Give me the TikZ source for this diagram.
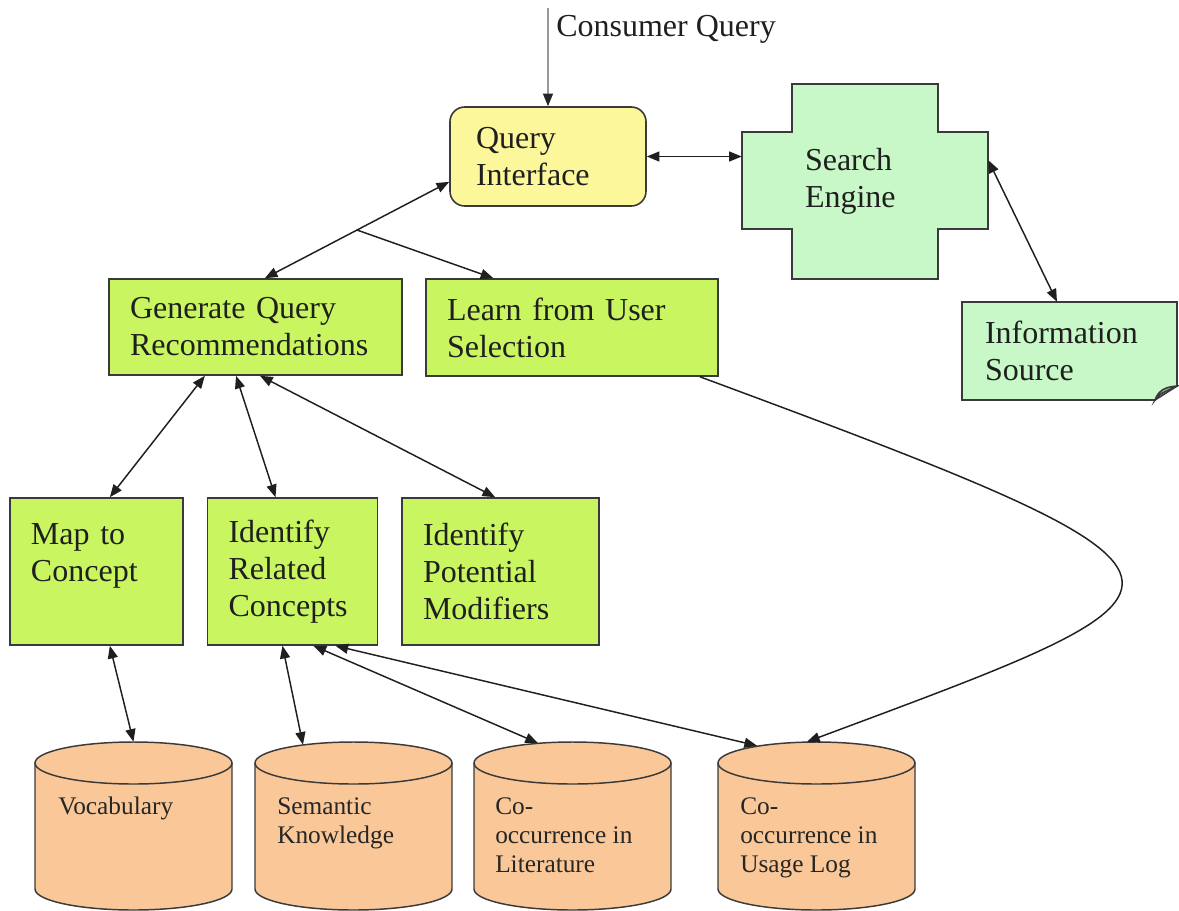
\documentclass[tikz,border=0pt]{standalone}
\usepackage{fontspec}
\setmainfont{Liberation Serif}
\usetikzlibrary{arrows.meta,calc}

\definecolor{qiyellow}{HTML}{FBF79A}
\definecolor{stepgreen}{HTML}{C9F560}
\definecolor{paleg}{HTML}{C8F8C8}
\definecolor{dbtan}{HTML}{FAC898}
\definecolor{edgegray}{HTML}{3A3A3A}

\begin{document}
\begin{tikzpicture}[x=0.75pt,y=-0.75pt,
  >={Triangle[length=9.5pt,width=7.5pt]},
  bigtext/.style={font=\fontsize{24}{27.75}\selectfont, text=black!88},
  proc/.style={bigtext, draw=edgegray, line width=1.2pt, fill=stepgreen,
               align=left, inner xsep=15.75pt, inner ysep=0pt},
  plain/.style={bigtext, align=left, inner ysep=0pt},
  shapeline/.style={draw=edgegray, line width=1.2pt},
  cylline/.style={draw=edgegray, line width=1.1pt},
  cyltext/.style={font=\fontsize{19}{22}\selectfont, text=black!85,
                  align=left, inner sep=0pt, anchor=north west},
  link/.style={draw=black!88, line width=1.1pt},
]
\useasboundingbox (0,0) rectangle (1179,911);

% ---- query interface ----
\node[proc, fill=qiyellow, rounded corners=11pt, minimum width=147pt,
      minimum height=74.25pt, text width=108pt, inner xsep=19.5pt]
      (qi) at (548,156.5) {Query\\Interface};

% ---- search engine (cross outline) ----
\path[shapeline, fill=paleg]
  (792,84) -- (938,84) -- (938,132) -- (988,132) -- (988,229) -- (938,229)
  -- (938,279) -- (792,279) -- (792,229) -- (742,229) -- (742,132)
  -- (792,132) -- cycle;
\node[plain, minimum width=184.5pt, minimum height=146.25pt,
      text width=90pt, inner xsep=47.25pt] (se) at (865,181.5) {Search\\Engine};

% ---- information source (sheet with turned corner) ----
\path[shapeline, fill=paleg]
  (962,302) -- (1177,302) -- (1177,386) -- (1155,400) -- (962,400) -- cycle;
\path[shapeline, fill=paleg!80!black!90]
  (1155,400) .. controls (1158,392) and (1163,387) .. (1177,386)
  .. controls (1168,391) and (1160,392) .. (1155,400) -- cycle;
\node[plain, minimum width=161.25pt, minimum height=73.5pt,
      text width=126.75pt, inner xsep=17.25pt] (info) at (1069.5,351)
      {Information\\Source};

% ---- processing steps ----
\node[proc, minimum width=219.75pt, minimum height=72pt, text width=188.25pt]
  (gqr) at (255.5,327) {Generate Query\\Recommendations};
\node[proc, minimum width=219pt, minimum height=72.75pt, text width=187.5pt]
  (lus) at (572,327.5) {Learn from User\\Selection};
\node[proc, minimum width=129.75pt, minimum height=110.25pt, text width=98.25pt]
  (map) at (96.5,571.5) {Map to\\Concept\\\mbox{}};
\node[proc, minimum width=127.5pt, minimum height=110.25pt, text width=96pt]
  (irc) at (292.5,571.5) {Identify\\Related\\Concepts};
\node[proc, minimum width=147.75pt, minimum height=110.25pt, text width=116.25pt]
  (ipm) at (500.5,571.5) {Identify\\Potential\\Modifiers};

% ---- knowledge stores ----
\foreach \cx/\nm in {133.5/voc, 353.5/sem, 572.5/lit, 816.5/usg}{
  \fill[dbtan] (\cx-98.5,763) rectangle (\cx+98.5,889);
  \fill[dbtan] (\cx,889) ellipse[x radius=98.5, y radius=21];
  \fill[dbtan] (\cx,763) ellipse[x radius=98.5, y radius=21];
  \draw[cylline] (\cx-98.5,763) -- (\cx-98.5,889)
     arc[start angle=180, end angle=0, x radius=98.5, y radius=21]
     -- (\cx+98.5,763);
  \draw[cylline] (\cx,763) ellipse[x radius=98.5, y radius=21];
  \node[minimum width=147.75pt, minimum height=126pt, inner sep=0pt]
     (\nm) at (\cx,826) {};
}
\node[cyltext] (vocT) at (58,797) {Vocabulary};
\node[cyltext] (semT) at (277,797) {Semantic\\Knowledge};
\node[cyltext] (litT) at (495,797) {Co-\\occurrence in\\Literature};
\node[cyltext] (usgT) at (740,797) {Co-\\occurrence in\\Usage Log};

% ---- incoming query ----
\coordinate (cqtop) at (548,8);
\node[bigtext, anchor=base west, inner sep=0pt] (cq) at (556,36) {Consumer Query};
\draw[draw=black!40, line width=1.1pt, -{Triangle[length=9.5pt,width=7.5pt,color=black!85]}]
  (cqtop) -- (qi.north);

% ---- connectors ----
\draw[link, <->] (qi.east) -- (qi.east -| se.west);
\draw[link, <->] ([yshift=16pt]se.east) -- ([xshift=-9.4pt]info.north);

\coordinate (gqrIn) at ([xshift=7pt]gqr.north);
\coordinate (qiIn) at ([yshift=-19pt]qi.west);
\coordinate (split) at ($(gqrIn)!0.5!(qiIn)$);
\draw[link, <->] (gqrIn) -- (qiIn);
\draw[link, ->] (split) -- ([xshift=-59pt]lus.north);

\draw[link, <->] ([xshift=-38pt]gqr.south) -- ([xshift=10pt]map.north);
\draw[link, <->] ([xshift=-14.6pt]gqr.south) -- ([xshift=-12.75pt]irc.north);
\draw[link, <->] ([xshift=3.4pt]gqr.south) -- ([xshift=-4pt]ipm.north);

\draw[link, <->] ([xshift=10pt]map.south) -- (voc.north);
\draw[link, <->] ([xshift=-7.5pt]irc.south) -- ([xshift=-37.9pt,yshift=-2.25pt]sem.north);
\draw[link, <->] ([xshift=15.75pt]irc.south) -- ([xshift=-25.9pt,yshift=-1pt]lit.north);
\draw[link, <->] ([xshift=32.25pt]irc.south) -- ([xshift=-44.6pt,yshift=-3pt]usg.north);

\draw[link, ->] ([xshift=96pt]lus.south)
  .. controls (1254,582) and (1230,584) .. ([xshift=-7.1pt]usg.north);
\end{tikzpicture}
\end{document}
